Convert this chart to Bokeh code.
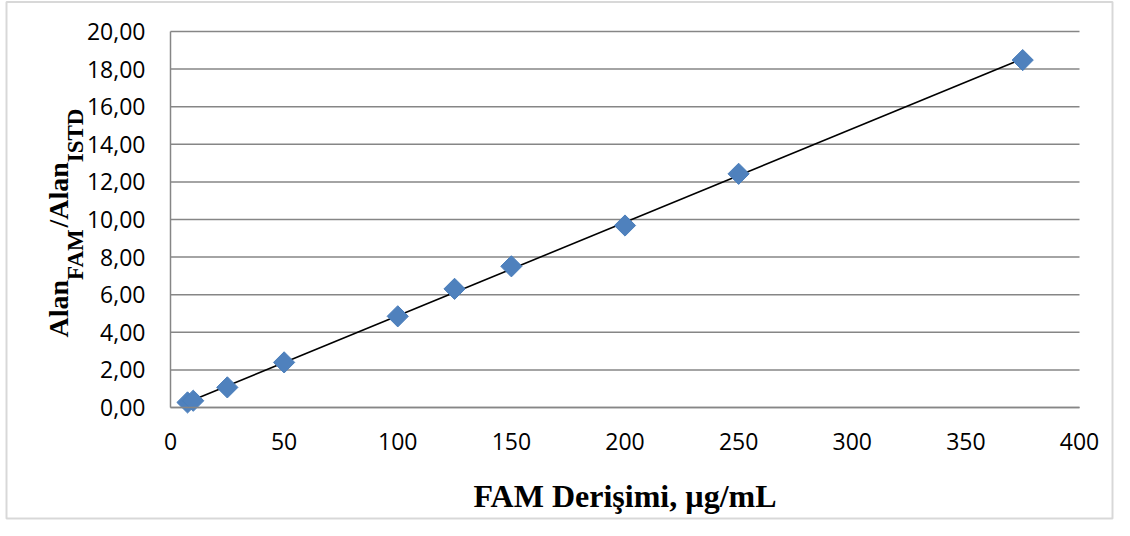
import numpy as np
from bokeh.plotting import figure
from bokeh.models import (Range1d, Label, FixedTicker, CustomJSTickFormatter,
                          BoxAnnotation, LinearAxis)
from bokeh.embed import file_html
from bokeh.resources import INLINE

# ---- data ----
conc = [7.5, 10, 25, 50, 100, 125, 150, 200, 250, 375]
ratio = [0.27, 0.36, 1.07, 2.40, 4.85, 6.31, 7.51, 9.68, 12.43, 18.48]
x_ticks = [0, 50, 100, 150, 200, 250, 300, 350, 400]
y_ticks = [0, 2, 4, 6, 8, 10, 12, 14, 16, 18, 20]
x_title = "FAM Derişimi, µg/mL"
y_parts = ["Alan", "FAM", "/Alan", "ISTD"]

# ---- layout: the frame covers the whole canvas, axes are fixed at 0 ----
W, H = 1114, 520
X0, X1 = 0, 400           # plotted data extent
Y0, Y1 = 0, 20
PL, PR, PT, PB = 170, 1079, 31, 407   # pixel box of the plot area
sx = (PR - PL) / (X1 - X0)
sy = (PB - PT) / (Y1 - Y0)
x_range = Range1d(X0 - PL / sx, X1 + (W - PR) / sx)
y_range = Range1d(Y0 - (H - PB) / sy, Y1 + PT / sy)

def dx(px):
    return X0 + (px - PL) / sx

def dy(py):
    return Y0 + (PB - py) / sy

p = figure(width=W, height=H, x_range=x_range, y_range=y_range,
           x_axis_type=None, y_axis_type=None, min_border=0,
           output_backend="svg", toolbar_location=None)
p.outline_line_color = None
p.background_fill_color = "white"
p.border_fill_color = "white"
p.xgrid.visible = False
p.ygrid.visible = False

gray = "#868686"

# horizontal gridlines over the plot area only
p.segment(x0=[X0] * len(y_ticks), x1=[X1] * len(y_ticks), y0=y_ticks, y1=y_ticks,
          line_color=gray, line_width=1.5)

xaxis = LinearAxis(fixed_location=Y0, bounds=(X0, X1), ticker=FixedTicker(ticks=x_ticks))
yaxis = LinearAxis(fixed_location=X0, bounds=(Y0, Y1), ticker=FixedTicker(ticks=y_ticks),
                   formatter=CustomJSTickFormatter(
                       code="return tick.toFixed(2).replace('.', ',');"))
for ax in (xaxis, yaxis):
    ax.axis_line_color = gray
    ax.axis_line_width = 1.5
    ax.major_tick_line_color = None
    ax.minor_tick_line_color = None
    ax.major_tick_in = 0
    ax.major_tick_out = 0
    ax.major_label_text_font = "Open Sans"
    ax.major_label_text_font_size = "23px"
    ax.major_label_text_color = "black"
xaxis.major_label_standoff = 25
yaxis.major_label_standoff = 25
p.add_layout(xaxis, "below")
p.add_layout(yaxis, "left")

# x title
p.add_layout(Label(x=(X0 + X1) / 2, y=dy(495), text=x_title,
                   text_align="center", text_baseline="alphabetic",
                   text_font="Liberation Serif", text_font_style="bold",
                   text_font_size="32px", text_color="black"))

# outer chart border
p.add_layout(BoxAnnotation(left=dx(6), right=dx(W - 2), top=dy(1.5), bottom=dy(H - 2),
                           fill_color=None, line_color="#7f7f7f", line_width=2))

# trend line (least squares fit)
k, b = np.polyfit(conc, ratio, 1)
xs = np.array([min(conc), max(conc)])
p.line(xs, k * xs + b, line_color="black", line_width=1.6)

# markers (Excel style diamonds)
p.scatter(conc, ratio, marker="square", angle=np.pi / 4, size=15,
          fill_color="#4F81BD", line_color="#4A7EBB", line_width=1)

# y title with subscripts, built from rotated pieces
sizes = [28, 23, 28, 23]
em = {"Alan": 2.056, "FAM": 2.277, "/Alan": 2.334, "ISTD": 2.334}
base_x = {28: 58, 23: 75}
y_img = 337.0
for txt, fs in zip(y_parts, sizes):
    p.add_layout(Label(x=dx(base_x[fs]), y=dy(y_img), text=txt,
                       angle=np.pi / 2, text_align="left", text_baseline="alphabetic",
                       text_font="Liberation Serif", text_font_style="bold",
                       text_font_size=f"{fs}px", text_color="black"))
    y_img -= em[txt] * fs

open("out.html", "w").write(file_html(p, INLINE))
